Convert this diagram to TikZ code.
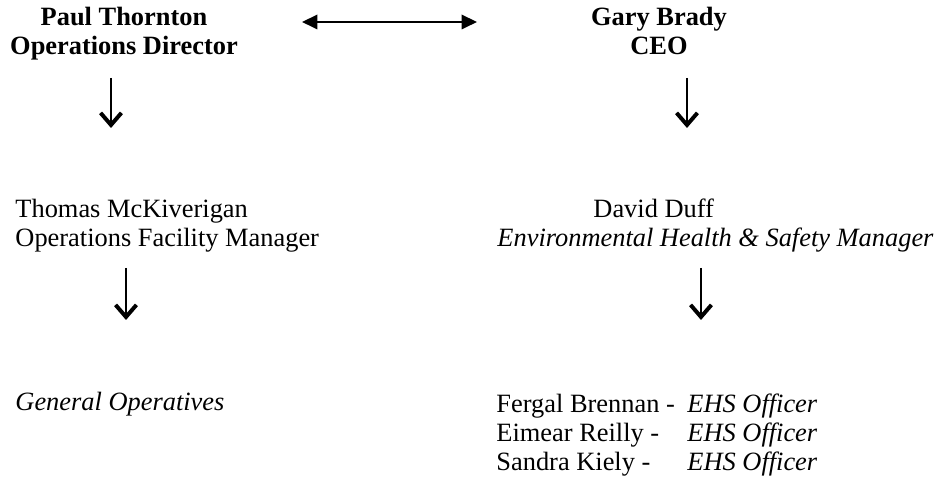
\documentclass[tikz,border=0pt]{standalone}
\usepackage{fontspec}
\setmainfont{Liberation Serif}
\usetikzlibrary{arrows.meta}
\tikzset{
  ochead/.style={
    align=center, inner sep=0pt, anchor=base,
    font=\fontsize{12}{13.2}\selectfont\bfseries},
  octext/.style={
    align=left, inner sep=0pt, anchor=base west,
    font=\fontsize{12}{13.2}\selectfont},
  ocrole/.style={octext, font=\fontsize{12}{13.2}\selectfont\itshape},
  ocdown/.style={-{Straight Barb[length=5.5pt, width=9.5pt, line width=1.8pt]},
    line width=0.95pt},
  oclink/.style={{Triangle[length=7pt, width=6.5pt]}-{Triangle[length=7pt, width=6.5pt]},
    line width=1.1pt},
}
\begin{document}
\begin{tikzpicture}[x=0.4545pt, y=-0.4545pt]
\useasboundingbox (0, 0) rectangle (942, 480);

% Top row (base anchor sits on the last line).
\node[ochead] (paul) at (124, 55) {Paul Thornton\\Operations Director};
\node[ochead] (gary) at (659, 55) {Gary Brady\\CEO};
\coordinate (linkL) at (302, 22);
\coordinate (linkR) at (477, 22);
\draw[oclink] (linkL) -- (linkR);

% Managers.
\node[octext] (thomas) at (15, 247)
  {Thomas McKiverigan\\Operations Facility Manager};
\node[octext] (david) at (593, 218) {David Duff};
\node[ocrole] (ehsmgr) at (497, 247)
  {Environmental Health \& Safety Manager};
\coordinate (paulA) at (111, 78);
\coordinate (paulB) at (111, 128);
\coordinate (garyA) at (687, 78);
\coordinate (garyB) at (687, 128);
\draw[ocdown] (paulA) -- (paulB);
\draw[ocdown] (garyA) -- (garyB);

% Staff.
\node[ocrole] (general) at (15, 411) {General Operatives};
\node[octext] (fergal) at (496, 413) {Fergal Brennan -};
\node[octext] (eimear) at (496, 442) {Eimear Reilly -};
\node[octext] (sandra) at (496, 471) {Sandra Kiely -};
\node[ocrole] (fergalrole) at (687, 413) {EHS Officer};
\node[ocrole] (eimearrole) at (687, 442) {EHS Officer};
\node[ocrole] (sandrarole) at (687, 471) {EHS Officer};
\coordinate (thomasA) at (126, 268);
\coordinate (thomasB) at (126, 320);
\coordinate (davidA) at (701, 268);
\coordinate (davidB) at (701, 320);
\draw[ocdown] (thomasA) -- (thomasB);
\draw[ocdown] (davidA) -- (davidB);

\end{tikzpicture}
\end{document}
